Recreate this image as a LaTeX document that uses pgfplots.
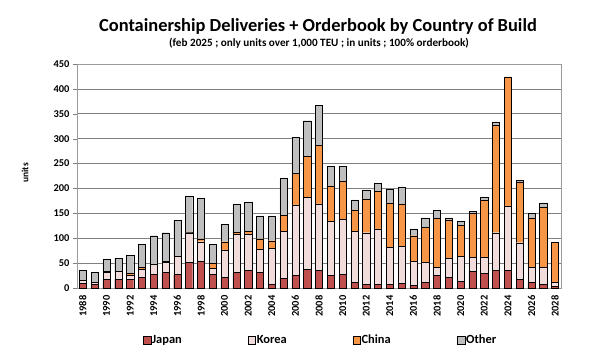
\documentclass[border=0pt]{standalone}
\usepackage{pgfplots}
\pgfplotsset{compat=1.18}
\usepackage{pgfplotstable}
\usepackage{fontspec}
\setmainfont{Carlito}
\definecolor{cJapan}{HTML}{C0504D}
\definecolor{cKorea}{HTML}{F2DCDB}
\definecolor{cChina}{HTML}{F79646}
\definecolor{cOther}{HTML}{BFBFBF}
\definecolor{cGrid}{HTML}{808080}
\pgfplotstableread{
year J K C O
1988 9 6 1 19
1989 8 3 0 21
1990 18 14 1 25
1991 18 15 1 26
1992 17 9 4 35
1993 22 16 4 45
1994 27 20 1 57
1995 32 19 2 58
1996 27 36 1 72
1997 51 60 2 72
1998 53 40 6 82
1999 27 13 9 39
2000 21 55 17 35
2001 31 77 4 57
2002 36 72 7 57
2003 32 46 21 46
2004 8 71 16 50
2005 20 94 32 74
2006 26 141 64 71
2007 38 144 83 71
2008 35 134 118 80
2009 26 108 71 39
2010 28 110 77 29
2011 11 103 43 20
2012 7 104 68 18
2013 8 111 76 15
2014 7 74 90 28
2015 10 73 86 34
2016 6 48 51 14
2017 11 41 70 19
2018 25 17 98 16
2019 21 38 78 4
2020 14 50 62 8
2021 33 29 88 4
2022 30 32 114 7
2023 35 76 216 6
2024 36 129 259 0
2025 18 73 122 3
2026 11 31 99 9
2027 7 35 121 8
2028 3 8 81 0
}\data
\pgfplotsset{sq/.style={legend image code/.code={\draw[##1,draw=black,line width=0.4pt] (0bp,-3.8bp) rectangle (7.6bp,3.8bp);}}}
\begin{document}
\begin{tikzpicture}
\begin{axis}[name=ax, scale only axis, width=484bp, height=224bp,
  ybar stacked, bar width=7.2bp,
  xmin=1987.5, xmax=2028.5, ymin=0, ymax=450,
  xtick={1988,1990,...,2028},
  ytick={0,50,...,450},
  ymajorgrids, grid style={cGrid, line width=0.6pt},
  axis line style={cGrid!80},
  /pgf/number format/1000 sep={},
  /pgf/number format/assume math mode=true,
  tick label style={font=\bfseries\fontsize{10.5}{12}\selectfont},
  x tick label style={rotate=90, anchor=east},
  major x tick style={draw=none},
  tick align=outside, major tick length=4bp,
  ytick style={cGrid},
  xtick pos=bottom, ytick pos=left,
  legend style={at={(0.130,-0.232)}, anchor=west, draw=none, legend columns=4,
    font=\bfseries\fontsize{12.5}{14}\selectfont, nodes={inner xsep=1bp}},
]
\addplot[fill=cJapan, draw=black, line width=0.4pt, sq] table[x=year,y=J]{\data};
\addlegendentry{\makebox[94.7bp][l]{Japan}}
\addplot[fill=cKorea, draw=black, line width=0.4pt, sq] table[x=year,y=K]{\data};
\addlegendentry{\makebox[94.7bp][l]{Korea}}
\addplot[fill=cChina, draw=black, line width=0.4pt, sq] table[x=year,y=C]{\data};
\addlegendentry{\makebox[94.7bp][l]{China}}
\addplot[fill=cOther, draw=black, line width=0.4pt, sq] table[x=year,y=O]{\data};
\addlegendentry{Other}
\end{axis}
\node[font=\bfseries\fontsize{18.5}{22}\selectfont] at ([xshift=241bp,yshift=261.5bp]ax.south west) {Containership Deliveries + Orderbook by Country of Build};
\node[font=\bfseries\fontsize{11.2}{13}\selectfont] at ([xshift=242bp,yshift=244.5bp]ax.south west) {(feb 2025 ; only units over 1,000 TEU ; in units ; 100\% orderbook)};
\node[font=\bfseries\fontsize{9.5}{11}\selectfont, rotate=90] at ([xshift=-52bp,yshift=115bp]ax.south west) {units};
\pgfresetboundingbox
\useasboundingbox ([xshift=-77bp,yshift=-73bp]ax.south west) rectangle ([xshift=523bp,yshift=288bp]ax.south west);
\end{tikzpicture}
\end{document}
